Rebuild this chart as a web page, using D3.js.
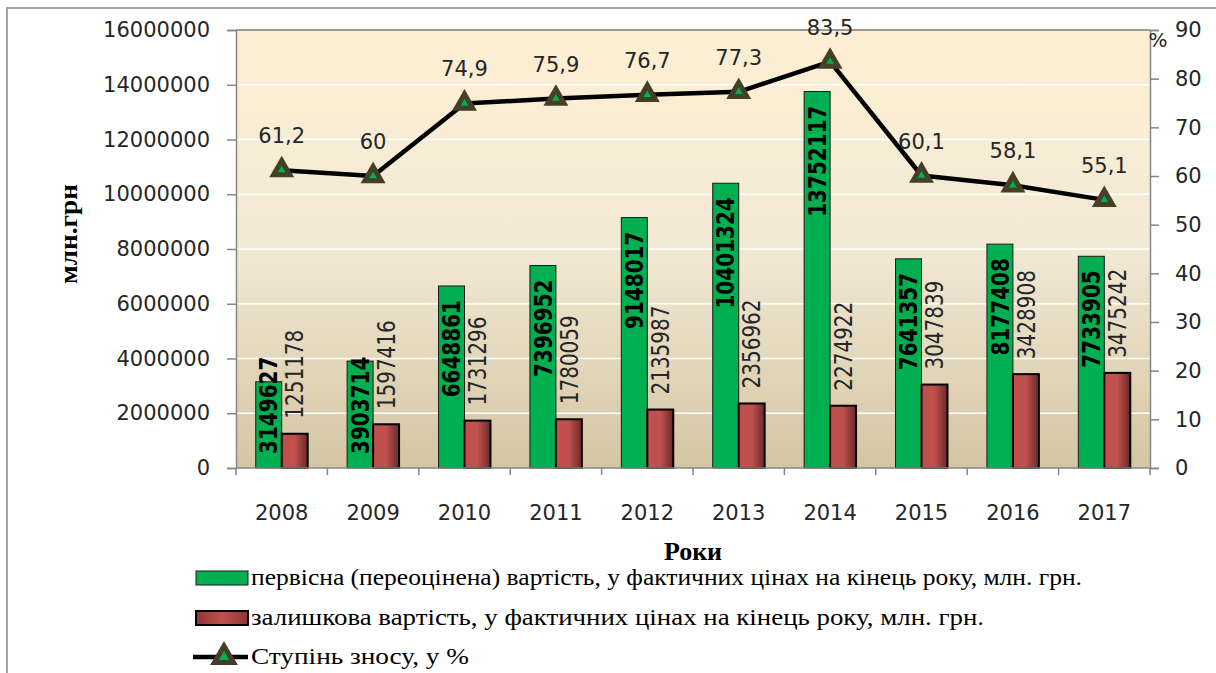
<!DOCTYPE html>
<html>
<head>
<meta charset="utf-8">
<script src="https://cdn.jsdelivr.net/npm/d3@7"></script>
<style>
  body { margin: 0; background: #fff; }
  svg { display: block; }
</style>
</head>
<body>
<svg id="chart" width="1216" height="673"></svg>
<script>
var years = ['2008', '2009', '2010', '2011', '2012', '2013', '2014', '2015', '2016', '2017'];
var initialCost = [3149627, 3903714, 6648861, 7396952, 9148017, 10401324, 13752117, 7641357, 8177408, 7733905];
var residualCost = [1251178, 1597416, 1731296, 1780059, 2135987, 2356962, 2274922, 3047839, 3428908, 3475242];
var wearRate = [61.2, 60, 74.9, 75.9, 76.7, 77.3, 83.5, 60.1, 58.1, 55.1];
var leftTicks = [0, 2000000, 4000000, 6000000, 8000000, 10000000, 12000000, 14000000, 16000000];
var rightTicks = [0, 10, 20, 30, 40, 50, 60, 70, 80, 90];
var legendLabels = [
  'первісна (переоцінена) вартість, у фактичних цінах на кінець року, млн. грн.',
  'залишкова вартість, у фактичних цінах на кінець року, млн. грн.',
  'Ступінь зносу, у %'
];

var margin = {left: 236, right: 66, top: 30, bottom: 205};
var width = 1216, height = 673;
var plotBottom = height - margin.bottom;
var plotRight = width - margin.right;

var svg = d3.select('#chart');
var defs = svg.append('defs');

var bg = defs.append('linearGradient').attr('id', 'bg')
  .attr('x1', 0).attr('y1', 0).attr('x2', 0).attr('y2', 1);
bg.append('stop').attr('offset', '0%').attr('stop-color', '#fdefd3');
bg.append('stop').attr('offset', '50%').attr('stop-color', '#f2e9d5');
bg.append('stop').attr('offset', '100%').attr('stop-color', '#d4c5a2');

var redGrad = defs.append('linearGradient').attr('id', 'redbar')
  .attr('x1', 0).attr('y1', 0).attr('x2', 1).attr('y2', 0);
redGrad.append('stop').attr('offset', '0%').attr('stop-color', '#c0504d');
redGrad.append('stop').attr('offset', '50%').attr('stop-color', '#c0504d');
redGrad.append('stop').attr('offset', '100%').attr('stop-color', '#6c2a28');

var redLegend = defs.append('linearGradient').attr('id', 'redleg')
  .attr('x1', 0).attr('y1', 0).attr('x2', 1).attr('y2', 0);
redLegend.append('stop').attr('offset', '0%').attr('stop-color', '#8e3532');
redLegend.append('stop').attr('offset', '50%').attr('stop-color', '#c0504d');
redLegend.append('stop').attr('offset', '100%').attr('stop-color', '#8e3532');

// outer frame
svg.append('rect')
  .attr('x', 7).attr('y', 8).attr('width', 1220).attr('height', 700)
  .attr('fill', 'none').attr('stroke', '#a6a6a6').attr('stroke-width', 2);

var xScale = d3.scaleBand().domain(years).range([margin.left, plotRight]);
var inner = d3.scaleBand().domain(['initial', 'residual'])
  .range([0, xScale.bandwidth()]).paddingOuter(0.76);
var yLeft = d3.scaleLinear().domain([0, 16000000]).range([plotBottom, margin.top]);
var yRight = d3.scaleLinear().domain([0, 90]).range([plotBottom, margin.top]);

// plot background
svg.append('rect')
  .attr('x', margin.left).attr('y', margin.top)
  .attr('width', plotRight - margin.left).attr('height', plotBottom - margin.top)
  .attr('fill', 'url(#bg)');

// gridlines
svg.append('g').selectAll('line')
  .data(leftTicks.slice(1, -1))
  .enter().append('line')
  .attr('x1', margin.left).attr('x2', plotRight)
  .attr('y1', yLeft).attr('y2', yLeft)
  .attr('stroke', '#ffffff').attr('stroke-width', 1.5);

svg.append('line')
  .attr('x1', margin.left).attr('x2', plotRight)
  .attr('y1', margin.top).attr('y2', margin.top)
  .attr('stroke', '#3a3a3a').attr('stroke-width', 1);

// bars
svg.append('g').selectAll('rect')
  .data(years)
  .enter().append('rect')
  .attr('x', function (d) { return xScale(d) + inner('initial'); })
  .attr('y', function (d, i) { return yLeft(initialCost[i]); })
  .attr('width', inner.bandwidth())
  .attr('height', function (d, i) { return plotBottom - yLeft(initialCost[i]); })
  .attr('fill', '#00b050').attr('stroke', '#1a1a1a').attr('stroke-width', 1);

svg.append('g').selectAll('rect')
  .data(years)
  .enter().append('rect')
  .attr('x', function (d) { return xScale(d) + inner('residual'); })
  .attr('y', function (d, i) { return yLeft(residualCost[i]); })
  .attr('width', inner.bandwidth())
  .attr('height', function (d, i) { return plotBottom - yLeft(residualCost[i]); })
  .attr('fill', 'url(#redbar)').attr('stroke', '#000').attr('stroke-width', 2);

// axes
var axisLeft = d3.axisLeft(yLeft).tickValues(leftTicks).tickSize(9).tickPadding(17)
  .tickFormat(d3.format('d'));
var axisRight = d3.axisRight(yRight).tickValues(rightTicks).tickSize(9).tickPadding(16)
  .tickFormat(d3.format('d'));
var axisBottom = d3.axisBottom(xScale).tickSize(0).tickPadding(37);

function styleAxis(g) {
  g.select('.domain').attr('stroke', '#868686').attr('stroke-width', 1.5);
  g.selectAll('.tick line').attr('stroke', '#868686').attr('stroke-width', 1.5);
  g.selectAll('text').attr('fill', '#262626')
    .style('font-family', 'DejaVu Sans').style('font-size', '21px');
}

svg.append('g').attr('transform', 'translate(' + margin.left + ',0)')
  .call(axisLeft).call(styleAxis);
svg.append('g').attr('transform', 'translate(' + plotRight + ',0)')
  .call(axisRight).call(styleAxis);
var bottomG = svg.append('g').attr('transform', 'translate(0,' + plotBottom + ')')
  .call(axisBottom).call(styleAxis);
bottomG.select('.domain').attr('d', 'M' + margin.left + ',0H' + plotRight);

// category separator ticks
svg.append('g').selectAll('line')
  .data(years.concat(['end']))
  .enter().append('line')
  .attr('x1', function (d, i) { return i < years.length ? xScale(d) : plotRight; })
  .attr('x2', function (d, i) { return i < years.length ? xScale(d) : plotRight; })
  .attr('y1', plotBottom).attr('y2', plotBottom + 7)
  .attr('stroke', '#868686').attr('stroke-width', 1.5);

// green bar labels (bold, inside end)
var greenLabels = svg.append('g').selectAll('text')
  .data(years)
  .enter().append('text')
  .style('font-family', 'DejaVu Sans').style('font-size', '20px').style('font-weight', 'bold')
  .attr('fill', '#000')
  .attr('dominant-baseline', 'central')
  .text(function (d, i) { return initialCost[i]; });

greenLabels.each(function (d, i) {
  var len = this.getComputedTextLength();
  var cx = xScale(d) + inner('initial') + inner.bandwidth() / 2;
  var top = yLeft(initialCost[i]);
  var endY = top + 14;
  var anchor = 'end';
  var y = endY;
  if (endY + len > plotBottom - 14) {
    anchor = 'start';
    y = plotBottom - 14;
  }
  d3.select(this).attr('text-anchor', anchor)
    .attr('transform', 'translate(' + cx + ',' + y + ') rotate(-90) scale(1,1.2)');
});

// red bar labels (outside end)
svg.append('g').selectAll('text')
  .data(years)
  .enter().append('text')
  .style('font-family', 'DejaVu Sans').style('font-size', '20px')
  .attr('fill', '#262626')
  .attr('dominant-baseline', 'central')
  .attr('text-anchor', 'start')
  .attr('transform', function (d, i) {
    var cx = xScale(d) + inner('residual') + inner.bandwidth() / 2;
    var y = yLeft(residualCost[i]) - 15;
    return 'translate(' + cx + ',' + y + ') rotate(-90) scale(1,1.2)';
  })
  .text(function (d, i) { return residualCost[i]; });

// wear line
var lineGen = d3.line()
  .x(function (d, i) { return xScale(years[i]) + xScale.bandwidth() / 2; })
  .y(function (d) { return yRight(d); });

svg.append('path')
  .datum(wearRate)
  .attr('d', lineGen)
  .attr('fill', 'none').attr('stroke', '#000').attr('stroke-width', 4.5)
  .attr('stroke-linejoin', 'round');

var tri = d3.symbol().type(d3.symbolTriangle).size(115);
svg.append('g').selectAll('path')
  .data(wearRate)
  .enter().append('path')
  .attr('d', tri)
  .attr('transform', function (d, i) {
    return 'translate(' + (xScale(years[i]) + xScale.bandwidth() / 2) + ',' + yRight(d) + ')';
  })
  .attr('fill', '#00b050').attr('stroke', '#443f26').attr('stroke-width', 5)
  .attr('stroke-linejoin', 'miter');

svg.append('g').selectAll('text')
  .data(wearRate)
  .enter().append('text')
  .attr('x', function (d, i) { return xScale(years[i]) + xScale.bandwidth() / 2; })
  .attr('y', function (d) { return yRight(d) - 27; })
  .attr('text-anchor', 'middle')
  .style('font-family', 'DejaVu Sans').style('font-size', '21px')
  .attr('fill', '#262626')
  .text(function (d) { return String(d).replace('.', ','); });

// percent sign
svg.append('text')
  .attr('x', plotRight + 8).attr('y', margin.top + 17)
  .attr('text-anchor', 'middle')
  .style('font-family', 'DejaVu Sans').style('font-size', '20px')
  .attr('fill', '#262626')
  .text('%');

// axis titles
svg.append('text')
  .attr('transform', 'translate(77,234) rotate(-90)')
  .attr('text-anchor', 'middle')
  .style('font-family', 'Liberation Serif').style('font-size', '25px').style('font-weight', 'bold')
  .attr('textLength', 100).attr('lengthAdjust', 'spacingAndGlyphs')
  .text('млн.грн');

svg.append('text')
  .attr('x', (margin.left + plotRight) / 2).attr('y', 560)
  .attr('text-anchor', 'middle')
  .style('font-family', 'Liberation Serif').style('font-size', '26px').style('font-weight', 'bold')
  .text('Роки');

// legend
var legendY = [578, 618, 657];
var legendLen = [831, 733, 218];
var legend = svg.append('g');

legend.append('rect')
  .attr('x', 196).attr('y', legendY[0] - 7).attr('width', 52).attr('height', 14)
  .attr('fill', '#00b050').attr('stroke', '#1a1a1a').attr('stroke-width', 1);
legend.append('rect')
  .attr('x', 196).attr('y', legendY[1] - 7).attr('width', 52).attr('height', 14)
  .attr('fill', 'url(#redleg)').attr('stroke', '#000').attr('stroke-width', 2);
legend.append('line')
  .attr('x1', 193).attr('x2', 248).attr('y1', legendY[2]).attr('y2', legendY[2])
  .attr('stroke', '#000').attr('stroke-width', 4.5);
legend.append('path')
  .attr('d', d3.symbol().type(d3.symbolTriangle).size(160))
  .attr('transform', 'translate(224,' + legendY[2] + ')')
  .attr('fill', '#00b050').attr('stroke', '#443f26').attr('stroke-width', 5);

legend.selectAll('text')
  .data(legendLabels)
  .enter().append('text')
  .attr('x', 251)
  .attr('y', function (d, i) { return legendY[i] + 7; })
  .attr('textLength', function (d, i) { return legendLen[i]; })
  .attr('lengthAdjust', 'spacingAndGlyphs')
  .style('font-family', 'Liberation Serif').style('font-size', '24px')
  .attr('fill', '#000')
  .text(function (d) { return d; });
</script>
</body>
</html>
